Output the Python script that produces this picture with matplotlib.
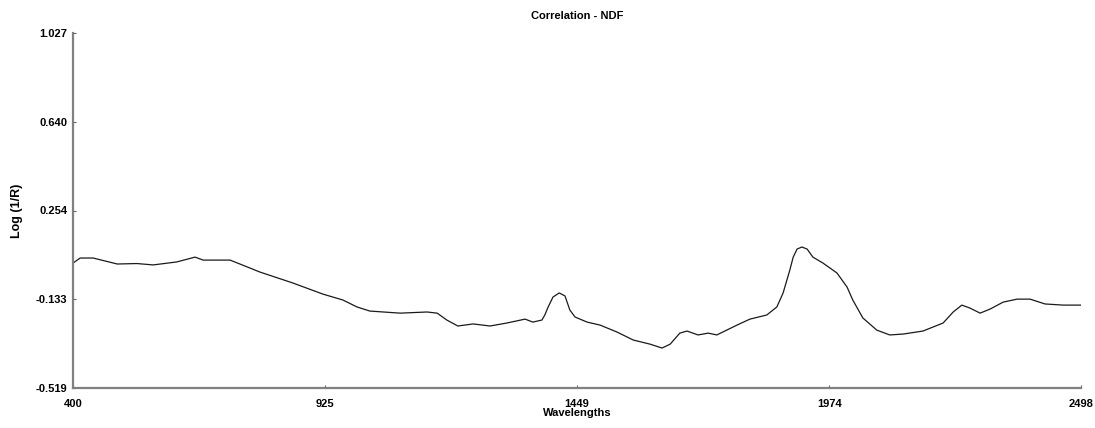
import matplotlib.pyplot as plt

# wavelength (nm) and correlation
wavelengths = [400, 415, 442, 492, 533, 567, 616, 654, 671, 727, 789, 858, 920,
               962, 991, 1018, 1081, 1137, 1158, 1178, 1201, 1233, 1268, 1303,
               1341, 1357, 1376, 1382, 1389, 1399, 1412, 1424, 1434, 1445, 1470,
               1497, 1532, 1566, 1601, 1626, 1643, 1663, 1678, 1701, 1722, 1740,
               1782, 1809, 1844, 1865, 1878, 1892, 1899, 1907, 1917, 1928, 1940,
               1961, 1990, 2011, 2023, 2044, 2073, 2100, 2128, 2169, 2211, 2232,
               2250, 2267, 2288, 2309, 2336, 2365, 2392, 2423, 2461, 2498]
correlation = [0.025, 0.047, 0.047, 0.021, 0.023, 0.017, 0.030, 0.051, 0.038,
               0.038, -0.014, -0.062, -0.110, -0.136, -0.166, -0.184, -0.193,
               -0.188, -0.193, -0.223, -0.249, -0.240, -0.249, -0.236, -0.219,
               -0.232, -0.223, -0.201, -0.166, -0.123, -0.105, -0.118, -0.179,
               -0.210, -0.232, -0.245, -0.275, -0.310, -0.328, -0.345, -0.328,
               -0.280, -0.271, -0.288, -0.280, -0.288, -0.245, -0.219, -0.201,
               -0.166, -0.105, -0.005, 0.051, 0.086, 0.095, 0.086, 0.051, 0.025,
               -0.018, -0.079, -0.136, -0.214, -0.267, -0.288, -0.284, -0.271,
               -0.236, -0.188, -0.158, -0.171, -0.193, -0.175, -0.145, -0.132,
               -0.132, -0.153, -0.158, -0.158]

x_ticks = [400, 925, 1449, 1974, 2498]
y_ticks = [-0.519, -0.133, 0.254, 0.640, 1.027]
y_labels = ['-0.519', '-0.133', '0.254', '0.640', '1.027']

plt.rcParams['font.family'] = ['Liberation Sans', 'DejaVu Sans']

fig = plt.figure(figsize=(10.95, 4.28), dpi=100)
ax = fig.add_axes([73 / 1095, 1 - 388 / 428, 1008 / 1095, 355 / 428])

ax.plot(wavelengths, correlation, color='#1a1a1a', lw=0.9)

ax.set_xlim(400, 2498)
ax.set_ylim(-0.519, 1.027)
ax.set_xticks(x_ticks)
ax.set_xticklabels([str(t) for t in x_ticks], fontsize=8, fontweight='bold')
ax.set_yticks(y_ticks)
ax.set_yticklabels(y_labels, fontsize=8, fontweight='bold')
ax.tick_params(direction='in', length=2.5, width=0.8, color='#606060')
ax.tick_params(axis='x', pad=8)
ax.tick_params(axis='y', pad=4)

for side in ['top', 'right']:
    ax.spines[side].set_visible(False)
for side in ['left', 'bottom']:
    ax.spines[side].set_color('#808080')
    ax.spines[side].set_linewidth(1.6)

ax.set_title('Correlation - NDF', fontsize=8, fontweight='bold', pad=10)
ax.set_xlabel('Wavelengths', fontsize=8, fontweight='bold', labelpad=-1)
ax.set_ylabel('Log (1/R)', fontsize=9, fontweight='bold', labelpad=9)

fig.savefig('out.png', dpi=100)
